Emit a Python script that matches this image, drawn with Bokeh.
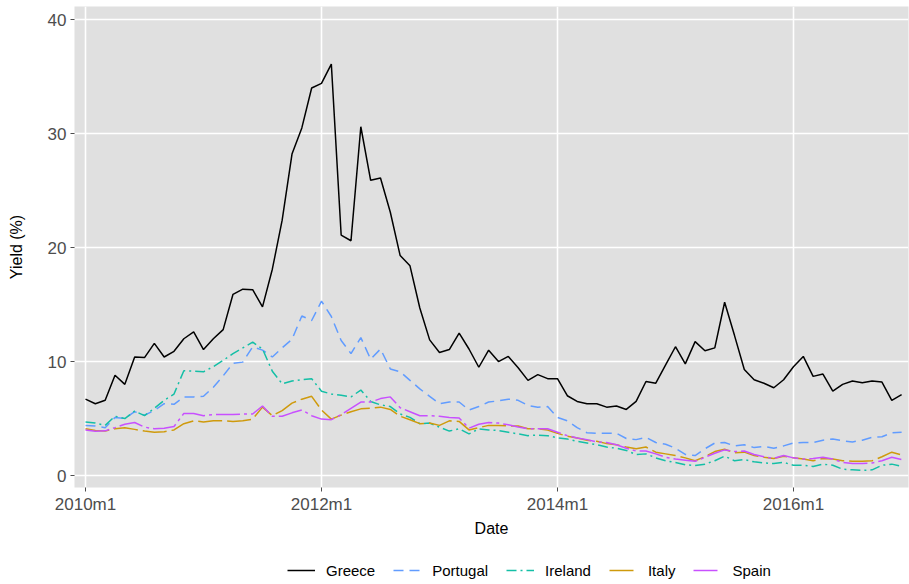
from bokeh.plotting import figure
from bokeh.layouts import column
from bokeh.models import Range1d, FixedTicker, Legend, LegendItem
from bokeh.embed import file_html
from bokeh.resources import INLINE

# Monthly 10-year government bond yields, 2010m1 .. 2016m12 (month index 0..83)
months = list(range(84))
tick_pos = [0, 24, 48, 72]
tick_labels = ["2010m1", "2012m1", "2014m1", "2016m1"]

greece = [6.7, 6.3, 6.6, 8.8, 8.0, 10.4, 10.35, 11.6, 10.4, 10.9,
          12.0, 12.6, 11.05, 12.0, 12.8, 15.9, 16.35, 16.3, 14.8, 18.1,
          22.4, 28.2, 30.5, 34.0, 34.4, 36.1, 21.1, 20.6, 30.6, 25.9,
          26.1, 23.1, 19.3, 18.4, 14.7, 11.9, 10.8, 11.05, 12.5, 11.1,
          9.5, 11.0, 10.0, 10.45, 9.45, 8.35, 8.85, 8.5, 8.5, 7.0,
          6.5, 6.3, 6.3, 6.0, 6.1, 5.8, 6.5, 8.25, 8.1, 9.7,
          11.3, 9.8, 11.75, 10.95, 11.2, 15.2, 12.3, 9.3, 8.4, 8.1,
          7.7, 8.4, 9.55, 10.45, 8.7, 8.9, 7.4, 8.0, 8.3, 8.15,
          8.3, 8.2, 6.6, 7.1]

portugal = [4.4, 4.35, 4.2, 5.1, 5.0, 5.6, 5.3, 5.7, 6.3, 6.25,
            6.9, 6.9, 6.95, 7.75, 8.75, 9.85, 9.95, 11.3, 11.0, 10.4,
            11.2, 11.95, 14.0, 13.6, 15.3, 13.95, 11.85, 10.7, 12.1, 10.2,
            11.1, 9.35, 9.1, 8.35, 7.6, 6.95, 6.3, 6.45, 6.45, 5.75,
            6.05, 6.45, 6.55, 6.7, 6.6, 6.15, 6.0, 6.05, 5.1, 4.8,
            4.2, 3.75, 3.7, 3.7, 3.7, 3.25, 3.15, 3.35, 2.9, 2.75,
            2.4, 1.85, 1.75, 2.35, 2.85, 2.9, 2.6, 2.7, 2.45, 2.55,
            2.4, 2.6, 2.85, 2.9, 2.9, 3.1, 3.2, 3.05, 2.95, 3.1,
            3.35, 3.4, 3.75, 3.8]

ireland = [4.7, 4.6, 4.4, 5.2, 5.0, 5.65, 5.25, 5.9, 6.6, 7.15,
           9.2, 9.15, 9.1, 9.55, 10.1, 10.7, 11.2, 11.7, 11.1, 9.15,
           8.05, 8.3, 8.4, 8.5, 7.4, 7.15, 7.05, 6.9, 7.5, 6.5,
           6.2, 6.05, 5.4, 5.1, 4.55, 4.6, 4.25, 3.9, 4.1, 3.65,
           4.1, 4.0, 3.95, 3.8, 3.65, 3.5, 3.55, 3.5, 3.3, 3.2,
           3.0, 2.85, 2.7, 2.5, 2.4, 2.2, 1.85, 1.9, 1.55, 1.3,
           1.15, 0.95, 0.88, 1.0, 1.3, 1.7, 1.3, 1.4, 1.2, 1.1,
           1.05, 1.15, 0.9, 0.9, 0.8, 1.0, 0.9, 0.55, 0.5, 0.45,
           0.5, 0.9, 1.0, 0.8]

italy = [4.1, 3.95, 3.9, 4.1, 4.2, 4.05, 3.9, 3.8, 3.85, 4.0,
         4.55, 4.8, 4.7, 4.8, 4.8, 4.75, 4.8, 4.95, 6.0, 5.25,
         5.7, 6.35, 6.7, 6.95, 5.75, 4.95, 5.3, 5.6, 5.85, 5.9,
         6.0, 5.8, 5.2, 4.9, 4.55, 4.6, 4.4, 4.8, 4.75, 4.0,
         4.2, 4.4, 4.4, 4.35, 4.35, 4.1, 4.1, 4.0, 3.7, 3.45,
         3.3, 3.1, 3.0, 2.8, 2.7, 2.5, 2.35, 2.5, 2.05, 1.9,
         1.75, 1.55, 1.3, 1.65, 2.1, 2.3, 2.0, 2.05, 1.75, 1.6,
         1.5, 1.7, 1.55, 1.45, 1.3, 1.5, 1.45, 1.3, 1.25, 1.25,
         1.3, 1.65, 2.05, 1.8]

spain = [4.0, 3.88, 3.92, 4.2, 4.5, 4.65, 4.25, 4.1, 4.15, 4.3,
         5.45, 5.45, 5.25, 5.35, 5.35, 5.35, 5.4, 5.4, 6.1, 5.2,
         5.2, 5.5, 5.75, 5.25, 4.95, 4.9, 5.35, 5.9, 6.45, 6.45,
         6.75, 6.9, 5.95, 5.6, 5.25, 5.25, 5.2, 5.1, 5.05, 4.15,
         4.5, 4.65, 4.6, 4.45, 4.25, 4.1, 4.1, 4.1, 3.8, 3.5,
         3.3, 3.15, 2.95, 2.9, 2.7, 2.4, 2.15, 2.15, 1.9, 1.6,
         1.45, 1.35, 1.25, 1.6, 1.95, 2.25, 2.1, 2.15, 1.85, 1.65,
         1.5, 1.75, 1.55, 1.45, 1.5, 1.6, 1.45, 1.15, 1.05, 1.05,
         1.1, 1.3, 1.6, 1.4]

series = [
    ("Greece", greece, "#000000", "solid"),
    ("Portugal", portugal, "#619CFF", "10 6"),
    ("Ireland", ireland, "#14BFA6", "10 4 2 4"),
    ("Italy", italy, "#CF9A0C", "24 5"),
    ("Spain", spain, "#C850FF", "24 4 3 4"),
]

FONT = "Liberation Sans"

# main chart
p = figure(width=909, height=545, output_backend="svg", toolbar_location=None,
           x_range=Range1d(-1.12, 83.7), y_range=Range1d(-1.05, 41.15),
           min_border_left=74, min_border_right=1, min_border_top=6,
           min_border_bottom=58)

p.background_fill_color = "#E0E0E0"
p.border_fill_color = "white"
p.outline_line_color = None

for ax in (p.xaxis[0], p.yaxis[0]):
    ax.axis_line_color = None
    ax.major_tick_line_color = "#4D4D4D"
    ax.major_tick_out = 4
    ax.major_tick_in = 0
    ax.minor_tick_line_color = None
    ax.major_label_text_color = "#4D4D4D"
    ax.major_label_text_font = FONT
    ax.major_label_text_font_size = "17px"
    ax.axis_label_text_font = FONT
    ax.axis_label_text_font_size = "16px"
    ax.axis_label_text_font_style = "normal"
    ax.axis_label_text_color = "black"

p.xaxis.ticker = FixedTicker(ticks=tick_pos)
p.xaxis.major_label_overrides = {t: s for t, s in zip(tick_pos, tick_labels)}
p.xaxis.axis_label = "Date"
p.xaxis.major_label_standoff = 3
p.xaxis.axis_label_standoff = 3

p.yaxis.ticker = FixedTicker(ticks=[0, 10, 20, 30, 40])
p.yaxis.axis_label = "Yield (%)"
p.yaxis.major_label_standoff = 4
p.yaxis.axis_label_standoff = 20

p.xgrid.ticker = FixedTicker(ticks=tick_pos)
for g in (p.xgrid[0], p.ygrid[0]):
    g.grid_line_color = "white"
    g.grid_line_width = 1.6
    g.minor_grid_line_color = None

for name, vals, color, dash in series:
    p.line(months, vals, line_color=color, line_width=1.5, line_dash=dash)

# legend strip underneath: key lines are drawn outside its visible range,
# so only the legend entries show
leg = figure(width=909, height=39, output_backend="svg", toolbar_location=None,
             x_range=Range1d(10, 11), y_range=Range1d(10, 11),
             x_axis_type=None, y_axis_type=None, min_border=0)
leg.outline_line_color = None
leg.background_fill_color = "white"
leg.border_fill_color = "white"

items = []
for name, vals, color, dash in series:
    r = leg.line([0, 1], [0, 0], line_color=color, line_width=1.5, line_dash=dash)
    items.append(LegendItem(label=name, renderers=[r]))

legend = Legend(items=items, orientation="horizontal", location=(213, 5),
                label_text_font=FONT, label_text_font_size="15px",
                label_text_color="black", glyph_width=28, glyph_height=18,
                label_standoff=11, spacing=18, padding=0, margin=0,
                background_fill_alpha=0, border_line_color=None)
leg.add_layout(legend)

layout = column(p, leg, spacing=0)
open("out.html", "w").write(file_html(layout, INLINE))
